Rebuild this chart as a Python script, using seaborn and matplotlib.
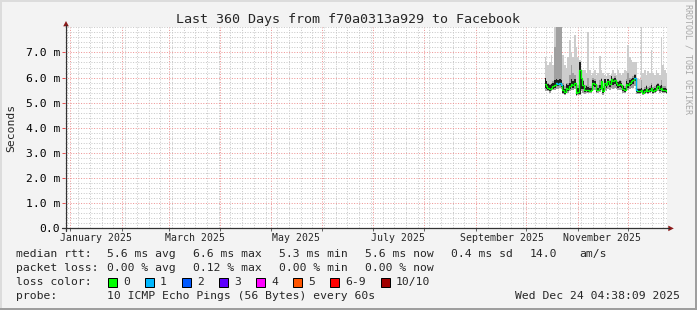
import numpy as np
import pandas as pd
import matplotlib
matplotlib.use("Agg")
import matplotlib.pyplot as plt
import matplotlib.dates as mdates
from matplotlib.patches import Rectangle, Polygon
from matplotlib.lines import Line2D
import seaborn as sns

# ---------------- data ----------------
first_day = "2025-10-12"
median = [5.75, 5.65, 5.6, 5.55, 5.6, 5.65, 5.7, 5.78, 5.75, 5.8,
          5.72, 5.5, 5.42, 5.6, 5.55, 5.65, 5.75, 5.7, 5.8, 5.38,
          5.42, 6.3, 6.0, 5.7, 5.5, 5.52, 5.5, 5.48, 5.5, 5.8,
          5.75, 5.5, 5.5, 5.58, 5.85, 5.45, 5.8, 5.7, 5.85, 5.75,
          5.95, 5.85, 5.9, 5.8, 5.7, 5.75, 5.7, 5.55, 5.5, 5.75,
          5.7, 5.8, 5.85, 5.9, 6.0, 5.5, 5.45, 5.45, 5.5, 5.4,
          5.45, 5.55, 5.45, 5.5, 5.6, 5.45, 5.5, 5.6, 5.65, 5.55,
          5.6, 5.5, 5.5, 5.45]
loss = [0, 0, 0, 0, 0, 0, 0, 1, 1, 1,
        1, 0, 0, 0, 0, 0, 0, 0, 0, 0,
        0, 0, 0, 0, 0, 0, 0, 0, 0, 0,
        0, 0, 0, 0, 0, 0, 0, 0, 0, 0,
        0, 0, 0, 0, 0, 0, 0, 0, 0, 0,
        0, 0, 0, 0, 1, 1, 0, 0, 0, 0,
        0, 0, 0, 0, 0, 0, 0, 0, 0, 0,
        0, 0, 0, 0]
smoke_min = [5.45, 5.45, 5.45, 5.4, 5.45, 5.5, 5.5, 5.55, 5.55, 5.6,
             5.55, 5.35, 5.3, 5.4, 5.4, 5.45, 5.5, 5.5, 5.55, 5.25,
             5.3, 5.3, 5.45, 5.4, 5.35, 5.4, 5.4, 5.38, 5.4, 5.5,
             5.5, 5.38, 5.4, 5.42, 5.5, 5.32, 5.5, 5.45, 5.55, 5.5,
             5.6, 5.55, 5.6, 5.55, 5.5, 5.5, 5.5, 5.4, 5.38, 5.5,
             5.5, 5.55, 5.6, 5.6, 5.65, 5.35, 5.35, 5.35, 5.38, 5.3,
             5.35, 5.4, 5.35, 5.38, 5.42, 5.35, 5.38, 5.42, 5.45, 5.4,
             5.42, 5.38, 5.38, 5.35]
smoke_max = [6.8, 6.6, 6.5, 6.6, 6.9, 6.5, 8.5, 8.5, 8.5, 8.5,
             8.5, 6.9, 6.5, 6.4, 6.8, 7.5, 7.0, 6.8, 7.7, 7.2,
             6.8, 6.7, 6.3, 6.3, 6.3, 6.2, 7.8, 6.3, 6.1, 6.2,
             6.3, 6.1, 6.2, 6.85, 6.3, 6.2, 6.1, 6.05, 6.2, 6.1,
             6.15, 6.3, 6.2, 6.1, 6.3, 6.2, 6.1, 6.2, 6.3, 6.25,
             7.3, 6.8, 6.7, 6.6, 6.6, 6.6, 5.95, 5.95, 8.2, 6.2,
             6.3, 6.1, 6.25, 6.2, 7.1, 6.2, 6.1, 6.3, 6.2, 6.1,
             7.6, 6.5, 6.3, 6.2]
smoke_mid_hi = [6.0, 5.85, 5.8, 5.75, 5.8, 5.85, 7.2, 8.5, 8.5, 8.5,
                8.5, 5.8, 5.65, 5.8, 5.8, 6.1, 6.5, 6.2, 6.1, 5.6,
                5.7, 6.6, 6.2, 5.9, 5.7, 5.72, 6.0, 5.65, 5.68, 6.0,
                5.95, 5.68, 5.7, 5.9, 6.0, 5.65, 5.95, 5.85, 5.95, 5.9,
                6.05, 6.0, 6.05, 5.95, 5.88, 5.9, 5.85, 5.7, 5.68, 5.95,
                6.2, 6.0, 6.0, 6.05, 6.15, 5.65, 5.6, 5.6, 5.9, 5.55,
                5.62, 5.72, 5.62, 5.65, 5.8, 5.62, 5.65, 5.75, 5.8, 5.7,
                5.9, 5.65, 5.65, 5.6]
smoke_in_hi = [6.0, 5.85, 5.75, 5.7, 5.75, 5.8, 5.9, 5.95, 5.9, 5.95,
               5.9, 5.7, 5.55, 5.75, 5.7, 5.8, 5.95, 5.85, 5.95, 5.5,
               5.6, 6.6, 6.3, 5.85, 5.6, 5.65, 5.62, 5.58, 5.6, 5.9,
               5.85, 5.6, 5.6, 5.7, 5.95, 5.6, 5.95, 5.8, 5.95, 5.85,
               6.05, 5.95, 6.0, 5.9, 5.82, 5.85, 5.8, 5.65, 5.6, 5.85,
               5.8, 5.9, 5.95, 6.0, 6.1, 5.6, 5.55, 5.55, 5.6, 5.5,
               5.55, 5.65, 5.55, 5.6, 5.7, 5.55, 5.6, 5.7, 5.75, 5.65,
               5.7, 5.6, 5.6, 5.55]
smoke_in_lo = [5.6, 5.55, 5.5, 5.45, 5.5, 5.55, 5.6, 5.65, 5.65, 5.7,
               5.62, 5.4, 5.35, 5.5, 5.45, 5.55, 5.62, 5.6, 5.68, 5.3,
               5.35, 5.35, 5.55, 5.55, 5.42, 5.45, 5.42, 5.42, 5.44, 5.65,
               5.62, 5.44, 5.45, 5.5, 5.7, 5.38, 5.65, 5.58, 5.7, 5.62,
               5.8, 5.72, 5.75, 5.68, 5.6, 5.62, 5.6, 5.48, 5.44, 5.62,
               5.6, 5.68, 5.72, 5.76, 5.85, 5.42, 5.4, 5.4, 5.44, 5.35,
               5.4, 5.48, 5.4, 5.44, 5.5, 5.4, 5.44, 5.5, 5.55, 5.48,
               5.5, 5.44, 5.44, 5.4]

y_ticks = [0, 1, 2, 3, 4, 5, 6, 7]
y_tick_labels = ["0.0", "1.0 m", "2.0 m", "3.0 m", "4.0 m", "5.0 m", "6.0 m", "7.0 m"]
x_label_dates = ["2025-01-16 12:00", "2025-03-16 12:00", "2025-05-16 12:00",
                 "2025-07-16 12:00", "2025-09-16 12:00", "2025-11-15 12:00"]
x_labels = ["January 2025", "March 2025", "May 2025", "July 2025",
            "September 2025", "November 2025"]
t_start = "2024-12-29 04:38:09"
t_end = "2025-12-24 04:38:09"

title = "Last 360 Days from f70a0313a929 to Facebook"
loss_names = ["0", "1", "2", "3", "4", "5", "6-9", "10/10"]
loss_colors = ["#00ff00", "#00b8ff", "#0059ff", "#5e00ff", "#ff00ff", "#ff5500", "#ff0000", "#a10000"]

# ---------------- figure ----------------
sns.set_theme(style="white")
plt.rcParams["font.family"] = ["DejaVu Sans Mono"]
plt.rcParams["axes.unicode_minus"] = False

W, H = 697, 310
fig = plt.figure(figsize=(W / 100, H / 100), dpi=100, facecolor="#f3f3f3")

def fx(x):
    return x / W

def fy(y):
    return 1 - y / H

L, R, T, B = 65.3, 667.0, 27.3, 228.4
ax = fig.add_axes([fx(L), fy(B), (R - L) / W, (B - T) / H])
ax.set_facecolor("white")

dates = pd.date_range(first_day, periods=len(median), freq="D")
df = pd.DataFrame({"date": dates, "median": median, "loss": loss,
                   "lo": smoke_min, "hi": smoke_max, "mhi": smoke_mid_hi,
                   "ilo": smoke_in_lo, "ihi": smoke_in_hi})

# smoke
ax.fill_between(df["date"], df["lo"], df["hi"], step="mid", color="#cccccc", lw=0, zorder=1)
ax.fill_between(df["date"], df["lo"], df["mhi"], step="mid", color="#a0a0a0", lw=0, zorder=1.1)
ax.fill_between(df["date"], df["ilo"], df["ihi"], step="mid", color="#1e1e1e", lw=0, zorder=1.2)

# median line (green for 0 loss, light blue for 1 loss)
sns.lineplot(data=df, x="date", y="median", color=loss_colors[0], lw=0.9,
             drawstyle="steps-mid", ax=ax, zorder=3, legend=False)
blue = np.where(np.array(loss) == 1, np.array(median), np.nan)
ax.plot(df["date"], blue, color=loss_colors[1], lw=0.9, drawstyle="steps-mid", zorder=3.1)

# axes limits
ax.set_xlim(pd.Timestamp(t_start), pd.Timestamp(t_end))
ax.set_ylim(0, 8)
ax.set_xlabel("")
ax.set_ylabel("")
for s in ax.spines.values():
    s.set_visible(False)

# grid
ax.set_yticks(y_ticks)
ax.set_yticklabels(y_tick_labels)
ax.set_yticks(np.arange(0, 8.01, 0.2), minor=True)
ax.xaxis.set_major_locator(mdates.MonthLocator())
ax.xaxis.set_minor_locator(mdates.WeekdayLocator(byweekday=mdates.MO))
ax.xaxis.set_major_formatter(plt.NullFormatter())
ax.xaxis.set_minor_formatter(plt.NullFormatter())
ax.set_axisbelow(True)
ax.grid(which="minor", color="#c8c8c8", lw=0.72, ls=(0, (1, 1.6)))
ax.grid(which="major", color="#ee9494", lw=0.72, ls=(0, (1, 1.6)))
ax.tick_params(axis="y", which="major", length=2.2, width=0.72, color="#e95353",
               direction="out", pad=1.7, labelsize=8.2, labelcolor="black", left=True)
ax.tick_params(axis="y", which="minor", length=0)
ax.tick_params(axis="x", which="major", length=2.0, width=0.72, color="#666666",
               direction="out", bottom=True)
ax.tick_params(axis="x", which="minor", length=0)

# x labels at mid-month
xtr = ax.get_xaxis_transform()
for d, lab in zip(x_label_dates, x_labels):
    ax.text(pd.Timestamp(d), -(238 - B) / (B - T), lab, transform=xtr,
            ha="center", va="center", fontsize=7.1, clip_on=False)

# axis lines and arrows (pixel geometry)
axis_col = "#333333"
arrow_col = "#8b1a1a"
fig.add_artist(Line2D([fx(61.7), fx(669)], [fy(B), fy(B)], color=axis_col, lw=0.9))
fig.add_artist(Line2D([fx(L + 0.7), fx(L + 0.7)], [fy(230.5), fy(25)], color=axis_col, lw=0.9))
fig.add_artist(Polygon([[fx(673.8), fy(B)], [fx(668.3), fy(B - 2.8)], [fx(668.3), fy(B + 2.8)]],
                       closed=True, color=arrow_col, lw=0))
fig.add_artist(Polygon([[fx(L + 0.7), fy(21.0)], [fx(L - 2.1), fy(26.3)], [fx(L + 3.5), fy(26.3)]],
                       closed=True, color=arrow_col, lw=0))

# frame (3D look)
fig.add_artist(Rectangle((0, 0), fx(2), 1, color="#dcdcdc", lw=0))
fig.add_artist(Rectangle((0, fy(2)), 1, 2 / H, color="#dcdcdc", lw=0))
fig.add_artist(Rectangle((fx(695), 0), 2 / W, 1, color="#9e9e9e", lw=0))
fig.add_artist(Rectangle((0, 0), 1, 2 / H, color="#9e9e9e", lw=0))

# titles
fig.text(fx(348), fy(19), title, ha="center", va="center", fontsize=9.6)
fig.text(fx(11), fy(128), "Seconds", rotation=90, ha="center", va="center", fontsize=8.2)
fig.text(fx(688), fy(59), "RRDTOOL / TOBI OETIKER", rotation=270, ha="center", va="center",
         fontsize=6.0, color="#a8a8a8")

# legend rows
fs = 8.2
row1 = [(16, "median rtt:"), (107, "5.6 ms avg"), (193, "6.6 ms max"), (279, "5.3 ms min"),
        (365, "5.6 ms now"), (451, "0.4 ms sd"), (530, "14.0"), (579, "am/s")]
row2 = [(16, "packet loss:"), (107, "0.00 % avg"), (193, "0.12 % max"), (279, "0.00 % min"),
        (365, "0.00 % now")]
for x, s in row1:
    fig.text(fx(x), fy(254.3), s, ha="left", va="center", fontsize=fs)
for x, s in row2:
    fig.text(fx(x), fy(268.3), s, ha="left", va="center", fontsize=fs)
fig.text(fx(16), fy(282.3), "loss color:", ha="left", va="center", fontsize=fs)
box_x = [108, 145, 182, 219, 256, 293, 330, 381]
for bx, name, col in zip(box_x, loss_names, loss_colors):
    fig.add_artist(Rectangle((fx(bx), fy(287)), 9 / W, 9 / H, facecolor=col,
                             edgecolor="black", lw=0.72))
    fig.text(fx(bx + 15), fy(282.3), name, ha="left", va="center", fontsize=fs)
fig.text(fx(16), fy(296), "probe:", ha="left", va="center", fontsize=fs)
fig.text(fx(107), fy(296), "10 ICMP Echo Pings (56 Bytes) every 60s", ha="left", va="center", fontsize=fs)
fig.text(fx(680), fy(296), "Wed Dec 24 04:38:09 2025", ha="right", va="center", fontsize=fs)

fig.savefig("out.png", dpi=100, facecolor=fig.get_facecolor())
